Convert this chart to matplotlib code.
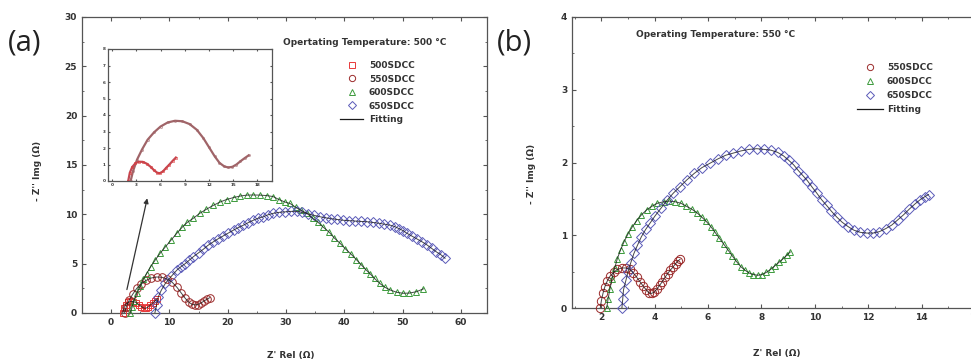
import matplotlib
matplotlib.use("Agg")
import matplotlib.pyplot as plt
from matplotlib.lines import Line2D
from matplotlib.ticker import MultipleLocator

# ---- data ----
# panel (a), operating temperature 500 C
a500_x = [2.0, 2.2, 2.5, 2.9, 3.3, 3.8, 4.3, 4.8, 5.2, 5.6, 5.9, 6.3, 6.7, 7.1, 7.5, 7.9]
a500_y = [0.0, 0.5, 0.85, 1.08, 1.17, 1.16, 1.05, 0.85, 0.65, 0.5, 0.47, 0.58, 0.8, 1.0, 1.22, 1.42]

a550_x = [2.3, 2.6, 3.1, 3.7, 4.4, 5.2, 6.0, 6.9, 7.8, 8.7, 9.6, 10.5, 11.3, 12.0,
          12.7, 13.3, 13.9, 14.4, 14.9, 15.4, 15.9, 16.4, 16.9]
a550_y = [0.0, 0.6, 1.3, 1.9, 2.5, 2.95, 3.3, 3.55, 3.65, 3.62, 3.45, 3.1, 2.6, 2.05,
          1.5, 1.1, 0.88, 0.82, 0.86, 1.0, 1.2, 1.38, 1.55]

a600_x = [3.3, 3.6, 3.9, 4.4, 5.0, 5.5, 6.1, 6.8, 7.6, 8.4, 9.3, 10.3, 11.3, 12.2, 13.1,
          14.1, 15.2, 16.3, 17.5, 18.7, 19.8, 21.0, 22.1, 23.3, 24.4, 25.5, 26.7, 27.8,
          28.8, 29.8, 30.7, 31.7, 32.6, 33.6, 34.6, 35.5, 36.4, 37.4, 38.3, 39.3, 40.2,
          41.2, 42.1, 42.9, 43.7, 44.4, 45.2, 46.1, 47.0, 47.9, 49.0, 50.1, 51.2, 52.4, 53.6]
a600_y = [0.0, 0.6, 1.2, 2.0, 2.7, 3.4, 4.0, 4.7, 5.4, 6.05, 6.7, 7.4, 8.1, 8.7, 9.2,
          9.6, 10.1, 10.5, 10.9, 11.25, 11.5, 11.7, 11.85, 11.95, 11.96, 11.95, 11.9, 11.8,
          11.5, 11.25, 11.1, 10.7, 10.4, 10.1, 9.6, 9.2, 8.7, 8.2, 7.6, 7.06, 6.5,
          5.95, 5.4, 4.9, 4.4, 4.0, 3.5, 3.0, 2.6, 2.33, 2.1, 2.0, 2.02, 2.16, 2.45]

a650_x = [7.5, 7.8, 8.1, 8.6, 9.3, 10.3, 11.3, 12.0, 12.7, 13.4, 14.1, 15.0, 15.8, 16.6,
          17.5, 18.3, 19.2, 20.1, 21.0, 21.8, 22.7, 23.5, 24.4, 25.2, 26.1, 26.9, 27.8,
          28.8, 29.8, 30.9, 31.9, 32.8, 33.8, 34.8, 35.8, 36.8, 37.8, 38.8, 39.8, 40.8,
          41.8, 42.9, 43.9, 44.9, 45.9, 46.9, 47.9, 48.7, 49.4, 50.1, 50.7, 51.6, 52.5,
          53.4, 54.2, 55.0, 55.8, 56.6, 57.3]
a650_y = [0.0, 0.8, 1.65, 2.3, 3.0, 3.7, 4.36, 4.7, 5.0, 5.35, 5.7, 6.1, 6.45, 6.85,
          7.2, 7.5, 7.8, 8.1, 8.4, 8.65, 8.9, 9.15, 9.4, 9.6, 9.75, 9.95, 10.1,
          10.2, 10.25, 10.3, 10.3, 10.2, 10.05, 9.9, 9.76, 9.65, 9.55, 9.48, 9.4, 9.36,
          9.32, 9.28, 9.25, 9.18, 9.1, 9.0, 8.9, 8.75, 8.55, 8.35, 8.1, 7.8, 7.5,
          7.2, 6.9, 6.55, 6.2, 5.9, 5.55]

# panel (b), operating temperature 550 C
b550_x = [1.96, 2.0, 2.06, 2.13, 2.22, 2.33, 2.46, 2.6, 2.76, 2.92, 3.07, 3.2, 3.33, 3.45,
          3.57, 3.68, 3.78, 3.88, 3.98, 4.08, 4.18, 4.28, 4.38, 4.48, 4.58, 4.68, 4.78,
          4.88, 4.95]
b550_y = [0.0, 0.1, 0.2, 0.29, 0.37, 0.44, 0.49, 0.53, 0.55, 0.55, 0.53, 0.48, 0.42, 0.36,
          0.3, 0.25, 0.21, 0.2, 0.22, 0.26, 0.31, 0.36, 0.42, 0.47, 0.52, 0.56, 0.61,
          0.65, 0.67]

b600_x = [2.2, 2.25, 2.32, 2.4, 2.5, 2.6, 2.72, 2.85, 3.0, 3.15, 3.32, 3.5, 3.7, 3.9, 4.1,
          4.33, 4.55, 4.77, 4.98, 5.18, 5.38, 5.58, 5.76, 5.93, 6.1, 6.26, 6.42, 6.58,
          6.74, 6.9, 7.06, 7.22, 7.38, 7.54, 7.7, 7.86, 8.02, 8.18, 8.34, 8.5, 8.66,
          8.82, 8.96, 9.08]
b600_y = [0.0, 0.12, 0.26, 0.4, 0.55, 0.68, 0.8, 0.91, 1.02, 1.11, 1.2, 1.28, 1.35, 1.4, 1.44,
          1.46, 1.47, 1.46, 1.44, 1.4, 1.36, 1.31, 1.25, 1.19, 1.12, 1.04, 0.96, 0.88,
          0.8, 0.72, 0.64, 0.57, 0.52, 0.48, 0.46, 0.45, 0.46, 0.49, 0.53, 0.58, 0.63,
          0.68, 0.73, 0.77]

b650_x = [2.77, 2.8, 2.83, 2.92, 3.0, 3.1, 3.22, 3.35, 3.5, 3.66, 3.83, 4.02, 4.23, 4.46,
          4.7, 4.95, 5.2, 5.48, 5.77, 6.07, 6.37, 6.66, 6.95, 7.24, 7.53, 7.82, 8.1, 8.35,
          8.6, 8.83, 9.02, 9.2, 9.38, 9.55, 9.72, 9.9, 10.07, 10.25, 10.44, 10.62, 10.82,
          11.02, 11.24, 11.46, 11.7, 11.94, 12.18, 12.42, 12.65, 12.88, 13.1, 13.32,
          13.54, 13.75, 13.95, 14.12, 14.26]
b650_y = [0.0, 0.12, 0.25, 0.38, 0.5, 0.62, 0.75, 0.86, 0.98, 1.08, 1.17, 1.27, 1.37, 1.48,
          1.58, 1.67, 1.76, 1.85, 1.93, 1.99, 2.05, 2.1, 2.13, 2.16, 2.18, 2.19, 2.18, 2.17,
          2.14, 2.09, 2.03, 1.97, 1.89, 1.82, 1.75, 1.66, 1.58, 1.49, 1.41, 1.33, 1.25,
          1.18, 1.12, 1.07, 1.04, 1.03, 1.03, 1.05, 1.09, 1.14, 1.21, 1.28,
          1.36, 1.43, 1.49, 1.53, 1.56]

labels_a = ["500SDCC", "550SDCC", "600SDCC", "650SDCC", "Fitting"]
labels_b = ["550SDCC", "600SDCC", "650SDCC", "Fitting"]

C500 = "#e8393a"
C550 = "#9b2a2a"
C600 = "#3c9a3c"
C650 = "#5a5ab8"
FIT = "#1a1a1a"
TXT = "#333333"

W, H = 971, 362
fig = plt.figure(figsize=(W / 100, H / 100), dpi=100)


def px_axes(left, top, right, bottom):
    return fig.add_axes([left / W, 1 - bottom / H, (right - left) / W, (bottom - top) / H])


def style(ax, fs=6.5):
    for s in ax.spines.values():
        s.set_color("#555555")
        s.set_linewidth(0.9)
    ax.tick_params(which="both", top=True, right=True, direction="in",
                   labelsize=fs, colors="#555555", labelcolor=TXT)
    ax.tick_params(which="major", length=3)
    ax.tick_params(which="minor", length=1.5)
    for lab in ax.get_xticklabels() + ax.get_yticklabels():
        lab.set_fontweight("bold")


def series(ax, x, y, color, marker, ms, fit=True):
    ax.plot(x, y, linestyle="none", marker=marker, ms=ms, mfc="none", mec=color,
            mew=0.7, clip_on=False, zorder=3)
    if fit:
        ax.plot(x, y, color=FIT, lw=0.7, alpha=0.8, zorder=4)


# ---------------- panel (a) ----------------
ax1 = px_axes(82, 17, 487, 313)
series(ax1, a500_x, a500_y, C500, "s", 5)
series(ax1, a550_x, a550_y, C550, "o", 5.5)
series(ax1, a600_x, a600_y, C600, "^", 4.5)
series(ax1, a650_x, a650_y, C650, "D", 5)
ax1.set_xlim(-5, 64.5)
ax1.set_ylim(0, 30)
ax1.xaxis.set_major_locator(MultipleLocator(10))
ax1.xaxis.set_minor_locator(MultipleLocator(5))
ax1.yaxis.set_major_locator(MultipleLocator(5))
ax1.yaxis.set_minor_locator(MultipleLocator(2.5))
style(ax1)
ax1.set_xlabel("Z' Rel (\u03a9)", fontsize=6.5, fontweight="bold", color=TXT)
ax1.set_ylabel("- Z'' Img (\u03a9)", fontsize=6.5, fontweight="bold", color=TXT)
ax1.xaxis.set_label_coords(0.516, -0.13)
ax1.yaxis.set_label_coords(-0.1, 0.48)
ax1.text(29.5, 27.4, "Opertating Temperature: 500 \u00b0C", fontsize=6.5,
         fontweight="bold", color=TXT, va="center")
ax1.annotate("", xy=(6.3, 11.9), xytext=(2.6, 2.1),
             arrowprops=dict(arrowstyle="-|>", color="#333333", lw=0.9, mutation_scale=7))

handles_a = [
    Line2D([], [], ls="none", marker="s", ms=4.5, mfc="none", mec=C500, mew=0.7),
    Line2D([], [], ls="none", marker="o", ms=4.5, mfc="none", mec=C550, mew=0.7),
    Line2D([], [], ls="none", marker="^", ms=4.5, mfc="none", mec=C600, mew=0.7),
    Line2D([], [], ls="none", marker="D", ms=4.2, mfc="none", mec=C650, mew=0.7),
    Line2D([], [], color=FIT, lw=0.9),
]
leg = ax1.legend(handles_a, labels_a, loc="upper left", frameon=False,
                 bbox_to_anchor=(340 / W, 1 - 61 / H), bbox_transform=fig.transFigure,
                 prop=dict(size=6.5, weight="bold"), handlelength=2.6, handletextpad=0.6,
                 labelspacing=0.5, borderpad=0, borderaxespad=0)
for t in leg.get_texts():
    t.set_color(TXT)

# inset with 500SDCC / 550SDCC
ins = px_axes(108, 49, 272, 181)
ins.plot(a550_x, a550_y, color="#a06468", lw=1.6, marker="o", ms=1.5, mfc="none",
         mec="#a06468", mew=0.4)
ins.plot(a500_x, a500_y, color="#c04a55", lw=1.6, marker="s", ms=1.5, mfc="none",
         mec="#e03a3a", mew=0.4)
ins.set_xlim(-0.5, 19.8)
ins.set_ylim(0, 8)
ins.xaxis.set_major_locator(MultipleLocator(3))
ins.yaxis.set_major_locator(MultipleLocator(1))
style(ins, fs=3)
ins.tick_params(which="major", length=1.5, pad=1.5)

# ---------------- panel (b) ----------------
ax2 = px_axes(572, 17, 975, 308)
series(ax2, b550_x, b550_y, C550, "o", 6)
series(ax2, b600_x, b600_y, C600, "^", 5)
series(ax2, b650_x, b650_y, C650, "D", 5.6)
ax2.set_xlim(0.9, 16)
ax2.set_ylim(0, 4)
ax2.xaxis.set_major_locator(MultipleLocator(2))
ax2.xaxis.set_minor_locator(MultipleLocator(1))
ax2.yaxis.set_major_locator(MultipleLocator(1))
ax2.yaxis.set_minor_locator(MultipleLocator(0.5))
style(ax2)
ax2.set_xlabel("Z' Rel (\u03a9)", fontsize=6.5, fontweight="bold", color=TXT)
ax2.set_ylabel("- Z'' Img (\u03a9)", fontsize=6.5, fontweight="bold", color=TXT)
ax2.xaxis.set_label_coords(0.509, -0.14)
ax2.yaxis.set_label_coords(-0.09, 0.46)
ax2.text(0.158, 0.94, "Operating Temperature: 550 \u00b0C", transform=ax2.transAxes,
         fontsize=6.5, fontweight="bold", color=TXT, va="center")

handles_b = handles_a[1:]
leg2 = ax2.legend(handles_b, labels_b, loc="upper left", frameon=False,
                  bbox_to_anchor=(857 / W, 1 - 63 / H), bbox_transform=fig.transFigure,
                  prop=dict(size=6.5, weight="bold"), handlelength=2.9, handletextpad=0.4,
                  labelspacing=0.55, borderpad=0, borderaxespad=0)
for t in leg2.get_texts():
    t.set_color(TXT)

# panel letters
fig.text(8 / W, 1 - 43 / H, "(a)", fontsize=21, family="Open Sans", color="#222222",
         va="center")
fig.text(497 / W, 1 - 43 / H, "(b)", fontsize=21, family="Open Sans", color="#222222",
         va="center")

fig.savefig("out.png", dpi=100)
